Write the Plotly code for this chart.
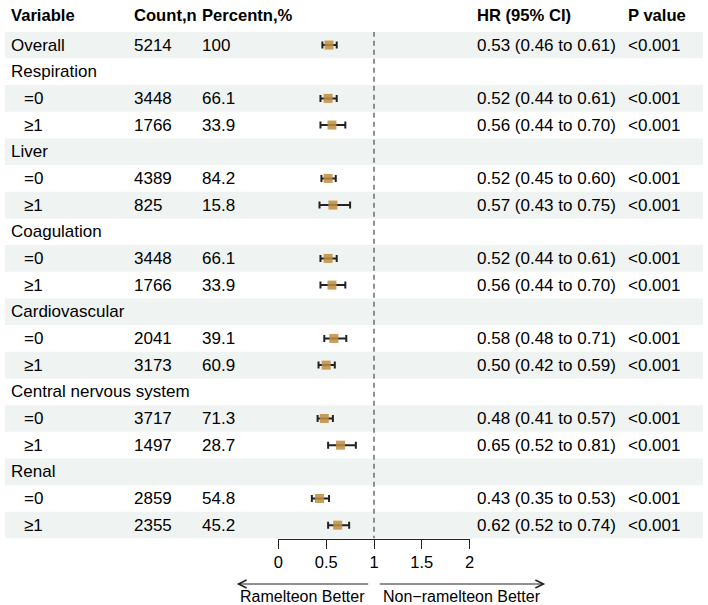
import plotly.graph_objects as go

# figure size in px
W, H = 708, 605

# ---- data ----
variables = ["Overall", "Respiration", "=0", "≥1", "Liver", "=0", "≥1",
             "Coagulation", "=0", "≥1", "Cardiovascular", "=0", "≥1",
             "Central nervous system", "=0", "≥1", "Renal", "=0", "≥1"]
counts = ["5214", "", "3448", "1766", "", "4389", "825", "", "3448", "1766",
          "", "2041", "3173", "", "3717", "1497", "", "2859", "2355"]
percents = ["100", "", "66.1", "33.9", "", "84.2", "15.8", "", "66.1", "33.9",
            "", "39.1", "60.9", "", "71.3", "28.7", "", "54.8", "45.2"]
hr = [0.53, None, 0.52, 0.56, None, 0.52, 0.57, None, 0.52, 0.56,
      None, 0.58, 0.50, None, 0.48, 0.65, None, 0.43, 0.62]
ci_lo = [0.46, None, 0.44, 0.44, None, 0.45, 0.43, None, 0.44, 0.44,
         None, 0.48, 0.42, None, 0.41, 0.52, None, 0.35, 0.52]
ci_hi = [0.61, None, 0.61, 0.70, None, 0.60, 0.75, None, 0.61, 0.70,
         None, 0.71, 0.59, None, 0.57, 0.81, None, 0.53, 0.74]
pvals = ["<0.001", "", "<0.001", "<0.001", "", "<0.001", "<0.001", "", "<0.001", "<0.001",
         "", "<0.001", "<0.001", "", "<0.001", "<0.001", "", "<0.001", "<0.001"]
headers = ["Variable", "Count,n", "Percentn,%", "HR (95% CI)", "P value"]
tick_vals = [0, 0.5, 1, 1.5, 2]
tick_text = ["0", "0.5", "1", "1.5", "2"]

rows = list(range(1, len(variables) + 1))
FONT = "Liberation Sans, Arial, Helvetica, sans-serif"
FS = 17

def px_x(p):
    return p / W

def px_y(p):
    return 1 - p / H

# ---- forest marks ----
xs, ys, ep, em = [], [], [], []
for r, h, l, u in zip(rows, hr, ci_lo, ci_hi):
    if h is None:
        continue
    xs.append(h)
    ys.append(r)
    ep.append(u - h)
    em.append(h - l)

fig = go.Figure()
fig.add_trace(go.Scatter(
    x=xs, y=ys, mode="markers",
    marker=dict(symbol="square", size=9, color="#bf8c3e", opacity=0.85,
                line=dict(width=0)),
    error_x=dict(type="data", symmetric=False, array=ep, arrayminus=em,
                 color="#222222", thickness=2, width=3.5),
    cliponaxis=False, hoverinfo="skip", showlegend=False,
))

shapes = []
# alternating row shading
for r in rows:
    if r % 2 == 1:
        shapes.append(dict(type="rect", xref="paper", yref="y", x0=0, x1=1,
                           y0=r - 0.5, y1=r + 0.5, fillcolor="#eff3f2",
                           line=dict(width=0), layer="below"))
# reference line at HR = 1
shapes.append(dict(type="line", xref="x", yref="y", x0=1, x1=1, y0=0.5, y1=rows[-1] + 0.5,
                   line=dict(color="#555555", width=1.3, dash="5px,4px"), layer="above"))

def txt_ann(x, y, text, yref="y", anchor="left", bold=False, size=FS):
    if bold:
        text = "<b>%s</b>" % text
    return dict(xref="paper", yref=yref, x=x, y=y, text=text, showarrow=False,
                xanchor=anchor, yanchor="middle", borderpad=0, borderwidth=0,
                font=dict(size=size, color="black", family=FONT))

annotations = []
col_x = [6, 131, 200, 479, 632]
for cx, txt in zip(col_x, headers):
    annotations.append(txt_ann(px_x(cx), px_y(15), txt, yref="paper", bold=True, size=16.6))

for r, v, c, pc, h, l, u, pv in zip(rows, variables, counts, percents, hr, ci_lo, ci_hi, pvals):
    indent = 19 if v.startswith("=") or v.startswith("≥") else 6
    hr_txt = "" if h is None else "%.2f (%.2f to %.2f)" % (h, l, u)
    for cx, txt in zip([indent] + col_x[1:], [v, c, pc, hr_txt, pv]):
        if not txt:
            continue
        annotations.append(txt_ann(px_x(cx), r, txt.replace("<", "&lt;")))

# direction arrows and labels
annotations.append(dict(xref="paper", yref="paper", x=px_x(235), y=px_y(584),
                        ax=133, ay=0, axref="pixel", ayref="pixel", text="",
                        showarrow=True, arrowhead=5, arrowsize=1.6, arrowwidth=1,
                        arrowcolor="#222222"))
annotations.append(dict(xref="paper", yref="paper", x=px_x(548), y=px_y(584),
                        ax=-167, ay=0, axref="pixel", ayref="pixel", text="",
                        showarrow=True, arrowhead=5, arrowsize=1.6, arrowwidth=1,
                        arrowcolor="#222222"))
annotations.append(txt_ann(px_x(302), px_y(596), "Ramelteon Better", yref="paper",
                           anchor="center", size=16))
annotations.append(txt_ann(px_x(464), px_y(596), "Non−ramelteon Better", yref="paper",
                           anchor="center", size=16))

fig.update_layout(
    width=W, height=H,
    margin=dict(l=0, r=0, t=0, b=0),
    paper_bgcolor="white", plot_bgcolor="rgba(0,0,0,0)",
    shapes=shapes, annotations=annotations,
    xaxis=dict(domain=[px_x(277.3), px_x(471.3)], range=[0, 2],
               tickvals=tick_vals, ticktext=tick_text,
               showline=True, linecolor="#222222", linewidth=1.3,
               ticks="outside", ticklen=9, tickwidth=1.3, tickcolor="#222222",
               showgrid=False, zeroline=False,
               tickfont=dict(size=16.5, color="black", family=FONT)),
    yaxis=dict(domain=[px_y(538.5), px_y(31.7)], range=[rows[-1] + 0.5, 0.5],
               visible=False, showgrid=False, zeroline=False),
)

# drop the default page margin so the figure sits at the window's corner
fig.write_html("out.html", config={"displayModeBar": False},
               post_script="document.body.style.margin='0';document.body.style.overflow='hidden';")
